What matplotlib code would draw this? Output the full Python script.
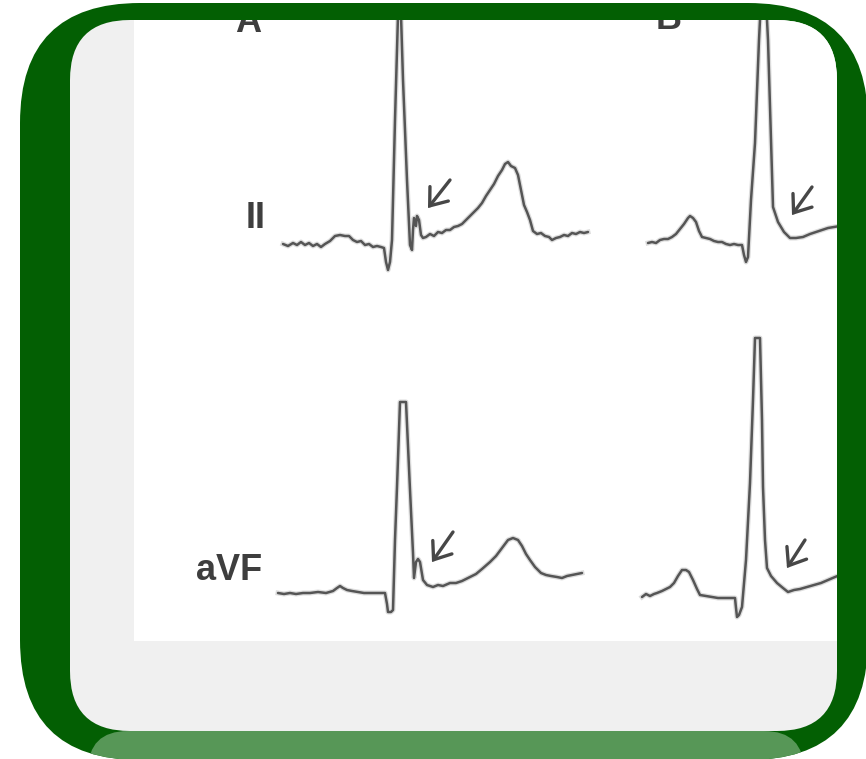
import matplotlib
matplotlib.use("Agg")
import matplotlib.pyplot as plt
from matplotlib.patches import FancyBboxPatch, Rectangle

# ---------------------------------------------------------------------------
# ECG traces: time in ms from the start of each strip, amplitude in mV
# ---------------------------------------------------------------------------
panel_names = ["A", "B"]
lead_names = ["II", "aVF"]

a_ii_t = [0, 20, 40, 56, 72, 88, 104, 120, 136, 152, 168, 188, 208, 228, 248,
          264, 280, 296, 312, 328, 344, 360, 376, 392, 404, 412, 420, 428, 436,
          448, 460, 472, 480, 496, 508, 516, 520, 524, 532, 536, 544, 552, 560,
          572, 588, 604, 620, 636, 652, 668, 684, 700, 716, 732, 748, 764, 780,
          796, 812, 828, 844, 860, 876, 888, 900, 912, 928, 940, 952, 964, 976,
          988, 1000, 1016, 1032, 1048, 1064, 1076, 1092, 1108, 1124, 1140, 1156,
          1172, 1188, 1204, 1220]
a_ii_mv = [0.01, -0.01, 0.02, 0.00, 0.03, 0.00, 0.02, -0.01, 0.01, -0.02, 0.01,
           0.04, 0.09, 0.10, 0.09, 0.09, 0.05, 0.03, 0.04, 0.00, 0.01, -0.02,
           -0.01, -0.02, -0.03, -0.17, -0.25, -0.17, 0.05, 1.25, 2.30, 2.30,
           1.65, 0.65, 0.00, -0.05, 0.15, 0.27, 0.19, 0.29, 0.25, 0.10, 0.07,
           0.08, 0.11, 0.09, 0.13, 0.12, 0.15, 0.15, 0.18, 0.19, 0.21, 0.25,
           0.29, 0.33, 0.37, 0.42, 0.49, 0.55, 0.61, 0.69, 0.75, 0.81, 0.83,
           0.79, 0.77, 0.70, 0.55, 0.40, 0.33, 0.25, 0.14, 0.11, 0.12, 0.09,
           0.08, 0.05, 0.07, 0.08, 0.10, 0.09, 0.12, 0.11, 0.13, 0.12, 0.13]

b_ii_t = [0, 16, 32, 48, 64, 80, 96, 112, 128, 144, 160, 168, 180, 192, 204,
          216, 232, 248, 264, 280, 296, 312, 328, 344, 360, 376, 384, 392, 400,
          412, 428, 444, 452, 472, 480, 492, 500, 520, 544, 568, 592, 620, 648,
          672, 696, 720, 744, 768]
b_ii_mv = [0.00, 0.01, 0.00, 0.03, 0.04, 0.04, 0.06, 0.09, 0.14, 0.19, 0.25,
           0.27, 0.25, 0.21, 0.12, 0.06, 0.05, 0.04, 0.02, 0.01, 0.01, -0.01,
           -0.02, -0.01, -0.02, -0.02, -0.12, -0.19, -0.14, 0.43, 1.00, 2.03,
           2.43, 2.43, 2.03, 1.03, 0.36, 0.21, 0.11, 0.05, 0.05, 0.06, 0.09,
           0.11, 0.13, 0.15, 0.16, 0.17]

a_avf_t = [0, 24, 48, 72, 100, 128, 160, 192, 220, 236, 248, 260, 276, 296,
           320, 344, 368, 392, 428, 436, 440, 452, 460, 468, 476, 488, 512, 528,
           540, 544, 552, 560, 568, 580, 596, 620, 640, 660, 688, 712, 736, 768,
           792, 816, 848, 872, 896, 920, 940, 960, 976, 992, 1008, 1028, 1052,
           1072, 1092, 1116, 1136, 1156, 1176, 1196, 1216]
a_avf_mv = [0.00, -0.01, 0.00, -0.01, 0.00, 0.00, 0.01, 0.00, 0.02, 0.05, 0.07,
            0.05, 0.03, 0.02, 0.01, 0.00, 0.00, 0.00, 0.00, -0.11, -0.19,
            -0.19, -0.17, 0.53, 1.06, 1.91, 1.91, 1.03, 0.40, 0.15, 0.31, 0.34,
            0.31, 0.13, 0.08, 0.06, 0.08, 0.07, 0.10, 0.10, 0.12, 0.16, 0.19,
            0.24, 0.31, 0.37, 0.45, 0.53, 0.55, 0.53, 0.47, 0.39, 0.33, 0.26,
            0.20, 0.18, 0.17, 0.16, 0.15, 0.17, 0.18, 0.19, 0.20]

b_avf_t = [0, 16, 32, 48, 60, 80, 96, 112, 128, 144, 160, 176, 188, 204, 220,
           232, 256, 280, 304, 328, 352, 372, 376, 380, 388, 400, 416, 432, 444,
           452, 472, 480, 484, 492, 500, 516, 540, 564, 584, 608, 632, 660, 688,
           716, 744, 772, 792]
b_avf_mv = [0.00, 0.03, 0.01, 0.03, 0.04, 0.06, 0.08, 0.10, 0.14, 0.21, 0.27,
            0.27, 0.25, 0.17, 0.08, 0.02, 0.01, 0.00, -0.01, -0.01, -0.01,
            -0.01, -0.11, -0.20, -0.18, -0.10, 0.37, 1.14, 1.97, 2.59, 2.59,
            1.77, 1.10, 0.57, 0.29, 0.21, 0.14, 0.09, 0.05, 0.07, 0.08, 0.10,
            0.12, 0.14, 0.17, 0.20, 0.22]

# ---------------------------------------------------------------------------
# Layout (pixels) and styling
# ---------------------------------------------------------------------------
W, H = 866, 759
PX_PER_MS = 0.25          # paper speed on screen
PX_PER_MV = 100.0         # gain on screen
IMG_X0, IMG_X1, IMG_Y0, IMG_Y1 = 134, 837, 20, 641   # printed strip area

GREEN = "#035f03"
BAND = "#579757"
PANEL_GREY = "#f0f0f0"
INK = "#555555"
TEXT_INK = "#3e3e3e"

strips = [
    (a_ii_t, a_ii_mv, (283, 245)),
    (b_ii_t, b_ii_mv, (648, 243)),
    (a_avf_t, a_avf_mv, (278, 593)),
    (b_avf_t, b_avf_mv, (642, 597)),
]

fig = plt.figure(figsize=(W / 100, H / 100), dpi=100)
fig.patch.set_facecolor("white")

# --- rounded frame ---------------------------------------------------------
frame = fig.add_axes([0, 0, 1, 1])
frame.set_xlim(0, W)
frame.set_ylim(H, 0)
frame.axis("off")

outer = FancyBboxPatch((20, 3), 848, 757,
                       boxstyle="round,pad=0,rounding_size=120",
                       fc=GREEN, ec="none", zorder=1)
frame.add_patch(outer)

band = FancyBboxPatch((88, 731), 716, 80,
                      boxstyle="round,pad=0,rounding_size=40",
                      fc=BAND, ec="none", zorder=2)
frame.add_patch(band)
band.set_clip_path(outer)

inner = FancyBboxPatch((70, 20), 767, 711,
                       boxstyle="round,pad=0,rounding_size=60",
                       fc=PANEL_GREY, ec="none", zorder=3)
frame.add_patch(inner)

sheet = Rectangle((IMG_X0, IMG_Y0), IMG_X1 - IMG_X0, IMG_Y1 - IMG_Y0,
                  fc="white", ec="none", zorder=4)
frame.add_patch(sheet)
sheet.set_clip_path(inner)

sheet_rect = [IMG_X0 / W, (H - IMG_Y1) / H,
              (IMG_X1 - IMG_X0) / W, (IMG_Y1 - IMG_Y0) / H]

# --- ECG strips ------------------------------------------------------------
for t, mv, (x0, y0) in strips:
    ax = fig.add_axes(sheet_rect)
    ax.set_xlim((IMG_X0 - x0) / PX_PER_MS, (IMG_X1 - x0) / PX_PER_MS)
    ax.set_ylim((y0 - IMG_Y1) / PX_PER_MV, (y0 - IMG_Y0) / PX_PER_MV)
    ax.axis("off")
    ax.patch.set_alpha(0)
    ax.plot(t, mv, color=INK, lw=3.6, alpha=0.2, solid_joinstyle="round")
    ax.plot(t, mv, color=INK, lw=1.8, solid_joinstyle="round",
            solid_capstyle="round")

# --- labels and arrows -----------------------------------------------------
labels = fig.add_axes(sheet_rect)
labels.set_xlim(IMG_X0, IMG_X1)
labels.set_ylim(IMG_Y1, IMG_Y0)
labels.axis("off")
labels.patch.set_alpha(0)

font = dict(family=["Liberation Sans", "DejaVu Sans"], fontweight="bold",
            fontsize=26, color=TEXT_INK, clip_on=True)
labels.text(248, 32, panel_names[0], ha="center", va="baseline", **font)
labels.text(669, 29, panel_names[1], ha="center", va="baseline", **font)
labels.text(256, 218, lead_names[0], ha="center", va="center", **font)
labels.text(229, 571, lead_names[1], ha="center", va="center", **font)

arrow_style = dict(arrowstyle="->,head_length=0.55,head_width=0.42",
                   lw=2.4, color="#474747", shrinkA=0, shrinkB=0,
                   mutation_scale=20, capstyle="round", joinstyle="miter")
for tail, head in [((450, 180), (428, 208)),
                   ((812, 187), (792, 215)),
                   ((453, 532), (432, 562)),
                   ((805, 540), (787, 568))]:
    labels.annotate("", xy=head, xytext=tail, arrowprops=arrow_style)

fig.savefig("out.png", dpi=100, facecolor=fig.get_facecolor())
